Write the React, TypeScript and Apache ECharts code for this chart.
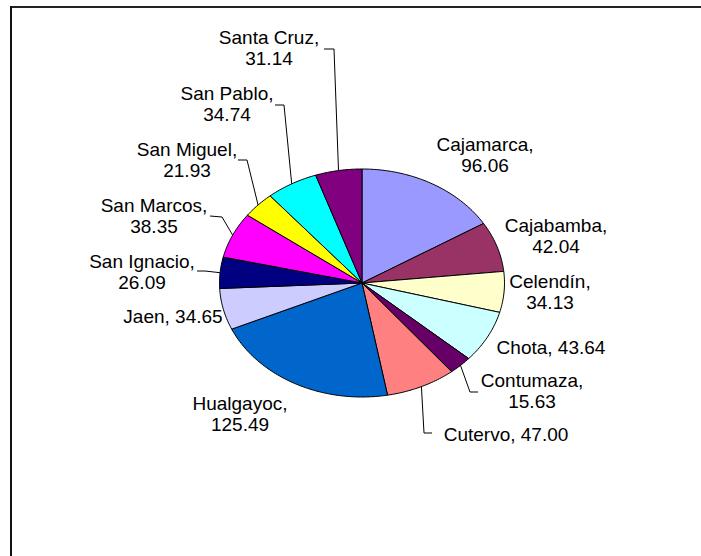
import React, { useEffect, useRef } from 'react';
import * as echarts from 'echarts';

// ---- data ----
const provinces = ['Cajamarca', 'Cajabamba', 'Celendín', 'Chota', 'Contumaza', 'Cutervo', 'Hualgayoc', 'Jaen', 'San Ignacio', 'San Marcos', 'San Miguel', 'San Pablo', 'Santa Cruz'];
const values = [96.06, 42.04, 34.13, 43.64, 15.63, 47.0, 125.49, 34.65, 26.09, 38.35, 21.93, 34.74, 31.14];

// ---- styles / layout ----
const colors = ['#9999FF', '#993366', '#FFFFCC', '#CCFFFF', '#660066', '#FF8080', '#0066CC', '#CCCCFF', '#000080', '#FF00FF', '#FFFF00', '#00FFFF', '#800080'];
const CX = 362;
const CY = 283;
const RX = 142.5;
const RY = 114;
const labelPos: [number, number][] = [
  [485, 155], [556, 236], [550, 292], [551, 347], [532, 391], [506, 434],
  [240, 414], [173, 316], [142, 272], [154, 216], [187, 160], [227, 104], [269, 48],
];
const wrapLabel = [true, true, true, false, true, false, true, false, true, true, true, true, true];
const leaders: (null | [[number, number], [number, number]])[] = [
  null, null, null, null,
  [[478, 392], [470, 392]],
  [[432, 433], [424, 433]],
  null, null,
  [[197, 271], [205, 271]],
  [[210, 216], [222, 217]],
  [[238, 160], [247, 160]],
  [[275, 105], [284, 105]],
  [[324, 49], [334, 49]],
];

const total = values.reduce((a, b) => a + b, 0);
const cum: number[] = [];
values.reduce((acc, v, i) => { cum[i] = acc; return acc + v; }, 0);

const pt = (t: number): [number, number] => [CX + RX * Math.sin(t), CY - RY * Math.cos(t)];

export default function App() {
  const ref = useRef<HTMLDivElement>(null);
  useEffect(() => {
    if (!ref.current) return;
    const chart = echarts.init(ref.current, undefined, { renderer: 'svg' });
    const font = '19px "Liberation Sans", Arial, sans-serif';
    chart.setOption({
      animation: false,
      backgroundColor: '#fff',
      graphic: [
        {
          type: 'line',
          shape: { x1: 10, y1: 7, x2: 701, y2: 7 },
          style: { stroke: '#222', lineWidth: 2 },
          silent: true,
        },
        {
          type: 'line',
          shape: { x1: 11, y1: 6, x2: 11, y2: 556 },
          style: { stroke: '#111', lineWidth: 2 },
          silent: true,
        },
      ],
      series: [
        {
          type: 'custom',
          coordinateSystem: 'none',
          data: values.map((v, i) => ({ name: provinces[i], value: v })),
          renderItem: (params: any) => {
            const i = params.dataIndex;
            const a0 = (cum[i] / total) * Math.PI * 2;
            const a1 = ((cum[i] + values[i]) / total) * Math.PI * 2;
            const steps = Math.max(2, Math.ceil(((a1 - a0) * 180) / Math.PI));
            const points: [number, number][] = [[CX, CY]];
            for (let k = 0; k <= steps; k++) points.push(pt(a0 + ((a1 - a0) * k) / steps));
            const children: any[] = [
              {
                type: 'polygon',
                shape: { points },
                style: { fill: colors[i], stroke: '#000', lineWidth: 1 },
              },
            ];
            const ld = leaders[i];
            if (ld) {
              const edge = pt((a0 + a1) / 2);
              children.push({
                type: 'polyline',
                shape: { points: [ld[0], ld[1], edge] },
                style: { fill: 'none', stroke: '#000', lineWidth: 1 },
                z2: 5,
              });
            }
            const text = `${provinces[i]},${wrapLabel[i] ? '\n' : ' '}${values[i].toFixed(2)}`;
            children.push({
              type: 'text',
              x: labelPos[i][0],
              y: labelPos[i][1],
              style: {
                text,
                font,
                fill: '#000',
                align: 'center',
                textAlign: 'center',
                verticalAlign: 'middle',
                textVerticalAlign: 'middle',
                lineHeight: 21,
              },
              z2: 10,
            });
            return { type: 'group', children };
          },
        },
      ],
    });
    return () => chart.dispose();
  }, []);
  return (
    <div
      ref={ref}
      style={{ position: 'fixed', left: 0, top: 0, width: 701, height: 556 }}
    />
  );
}
